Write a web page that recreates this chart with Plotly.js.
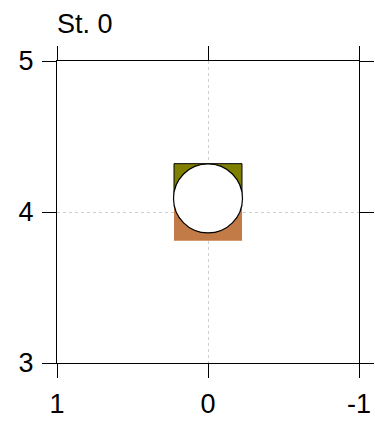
<!DOCTYPE html>
<html>
<head>
<meta charset="utf-8">
<script src="https://cdn.plot.ly/plotly-3.0.1.min.js"></script>
<style>
	html, body { margin: 0; padding: 0; background: #fff; }
	#chart { width: 375px; height: 424px; }
</style>
</head>
<body>
<div id="chart"></div>
<script>
var stationName = 'St. 0';
var stationX = [0];
var boxWidth = [0.45];
var lowerBase = [3.81];
var splitLevel = [4.08];
var upperTop = [4.32];
var circleY = [4.09];
var xTicks = [1, 0, -1];
var yTicks = [3, 4, 5];

function diff(a, b) {
	var ret = [];
	for(var i = 0; i < a.length; ++i) {
		ret.push(a[i] - b[i]);
	}
	return ret;
}

var lower = {
	type: 'bar',
	x: stationX,
	base: lowerBase,
	y: diff(splitLevel, lowerBase),
	width: boxWidth,
	marker: { color: '#c27a46', line: { width: 0 } },
	hoverinfo: 'skip',
};

var upper = {
	type: 'bar',
	x: stationX,
	base: splitLevel,
	y: diff(upperTop, splitLevel),
	width: boxWidth,
	marker: { color: '#808000', line: { color: '#000', width: 1 } },
	hoverinfo: 'skip',
};

var circle = {
	type: 'scatter',
	mode: 'markers',
	x: stationX,
	y: circleY,
	marker: { symbol: 'circle', size: 69, color: '#fff', line: { color: '#000', width: 1.2 } },
	hoverinfo: 'skip',
};

var axisStyle = {
	ticks: 'outside',
	ticklen: 14,
	tickwidth: 1,
	tickcolor: '#000',
	showline: true,
	linecolor: '#000',
	linewidth: 1,
	mirror: 'ticks',
	showgrid: true,
	gridcolor: '#cfcfcf',
	griddash: 'dot',
	gridwidth: 1,
	zeroline: false,
	tickfont: { size: 27, color: '#000' },
	tickmode: 'array',
};

var xaxis = Object.assign({}, axisStyle, {
	range: [1, -1],
	tickvals: xTicks,
	ticktext: xTicks.map(String),
	ticklabelstandoff: 3,
});
var yaxis = Object.assign({}, axisStyle, {
	range: [3, 5],
	tickvals: yTicks,
	ticktext: yTicks.map(String),
	ticklabelstandoff: 3,
});

var layout = {
	width: 375,
	height: 424,
	margin: { l: 57, r: 16, t: 61, b: 61 },
	paper_bgcolor: '#fff',
	plot_bgcolor: '#fff',
	font: { family: 'Liberation Sans, Arial, sans-serif', color: '#000' },
	title: {
		text: stationName,
		font: { size: 27, color: '#000' },
		x: 0,
		xref: 'paper',
		xanchor: 'left',
		y: 0.945,
		yref: 'container',
		yanchor: 'middle',
	},
	showlegend: false,
	barmode: 'overlay',
	xaxis: xaxis,
	yaxis: yaxis,
};

Plotly.newPlot('chart', [lower, upper, circle], layout, { displayModeBar: false, staticPlot: true });
</script>
</body>
</html>
